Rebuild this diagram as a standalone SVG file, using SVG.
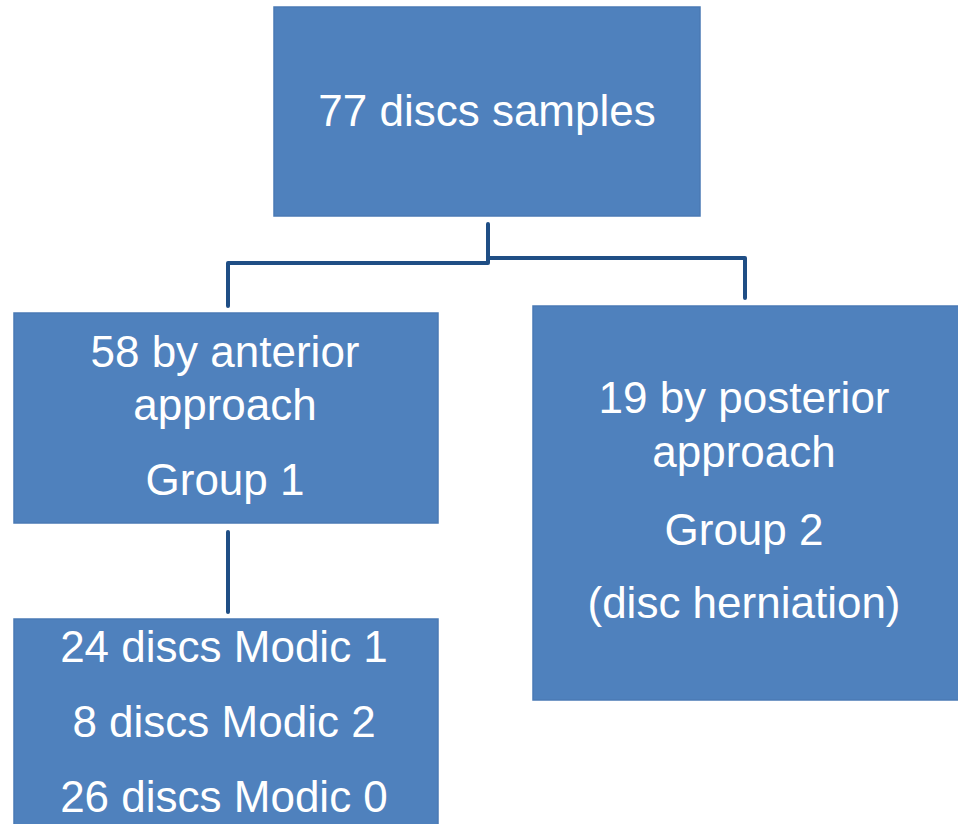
<svg xmlns="http://www.w3.org/2000/svg" width="958" height="824" viewBox="0 0 958 824">
<style>
.box{fill:#4F81BD;stroke:#4A7AB5;stroke-width:1.5}
.t{font-family:"Liberation Sans",Arial,sans-serif;font-size:44px;fill:#FFFFFF;text-anchor:middle}
.c{fill:none;stroke:#1F4E85;stroke-width:4;stroke-linejoin:round;stroke-linecap:round}
</style>
<rect width="958" height="824" fill="#FFFFFF"/>
<g id="connectors">
<path class="c" d="M488,224 V263 H228 V306"/>
<path class="c" d="M488,258 H745 V298"/>
<path class="c" d="M228,532 V612"/>
</g>
<g id="node-total">
<rect class="box" x="274" y="7" width="426" height="209"/>
<text class="t" x="487" y="126">77 discs samples</text>
</g>
<g id="node-group1">
<rect class="box" x="14" y="313" width="424" height="210"/>
<text class="t" x="225" y="367">58 by anterior</text>
<text class="t" x="225" y="420">approach</text>
<text class="t" x="225" y="495">Group 1</text>
</g>
<g id="node-group2">
<rect class="box" x="533" y="306" width="430" height="394"/>
<text class="t" x="744" y="413">19 by posterior</text>
<text class="t" x="744" y="467">approach</text>
<text class="t" x="744" y="545">Group 2</text>
<text class="t" x="744" y="618">(disc herniation)</text>
</g>
<g id="node-modic">
<rect class="box" x="14" y="619" width="424" height="210"/>
<text class="t" x="224" y="662">24 discs Modic 1</text>
<text class="t" x="224" y="737">8 discs Modic 2</text>
<text class="t" x="224" y="812">26 discs Modic 0</text>
</g>
</svg>
